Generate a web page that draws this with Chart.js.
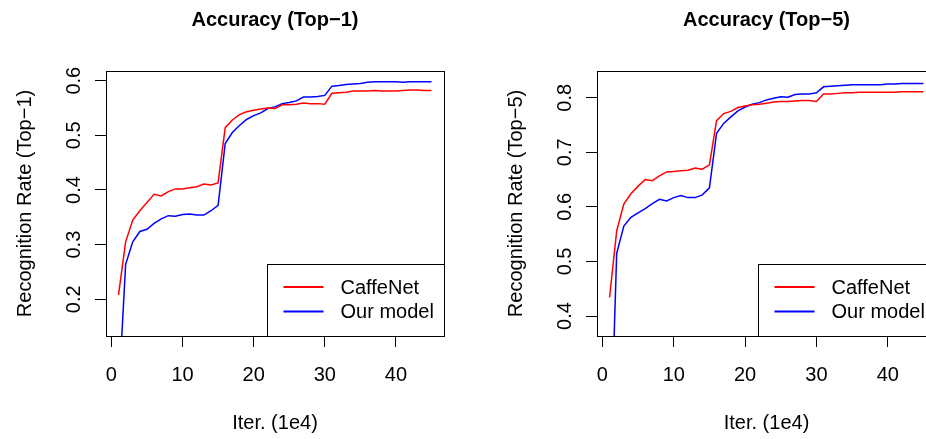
<!DOCTYPE html>
<html>
<head>
<meta charset="utf-8">
<script src="https://cdn.jsdelivr.net/npm/chart.js@4.4.1/dist/chart.umd.min.js"></script>
<style>
  html, body { margin: 0; padding: 0; background: #fff; overflow: hidden; width: 926px; height: 439px; }
  canvas { position: absolute; top: 0; }
  #top1 { left: 0; }
  #top5 { left: 491px; }
</style>
</head>
<body>
<canvas id="top1" width="463" height="439"></canvas>
<canvas id="top5" width="463" height="439"></canvas>
<script>
// iterations, in units of 1e4
const iterations = [1, 2, 3, 4, 5, 6, 7, 8, 9, 10, 11, 12, 13, 14, 15, 16, 17, 18, 19, 20, 21, 22, 23,
  24, 25, 26, 27, 28, 29, 30, 31, 32, 33, 34, 35, 36, 37, 38, 39, 40, 41, 42, 43, 44, 45];

const top1Caffe = [0.208, 0.305, 0.345, 0.362, 0.377, 0.392, 0.389, 0.397, 0.402, 0.402, 0.404, 0.406,
  0.411, 0.409, 0.413, 0.514, 0.528, 0.538, 0.543, 0.546, 0.548, 0.550, 0.549, 0.556, 0.556, 0.557,
  0.559, 0.558, 0.558, 0.557, 0.577, 0.578, 0.579, 0.581, 0.581, 0.581, 0.582, 0.581, 0.581, 0.581,
  0.582, 0.583, 0.583, 0.582, 0.582];
const top1Ours = [0.02, 0.264, 0.305, 0.324, 0.328, 0.339, 0.347, 0.353, 0.352, 0.355, 0.356, 0.354,
  0.354, 0.362, 0.372, 0.485, 0.505, 0.518, 0.529, 0.536, 0.541, 0.549, 0.552, 0.558, 0.560, 0.563,
  0.570, 0.570, 0.571, 0.573, 0.590, 0.591, 0.593, 0.594, 0.595, 0.597, 0.598, 0.598, 0.598, 0.598,
  0.597, 0.598, 0.598, 0.598, 0.598];

const top5Caffe = [0.434, 0.556, 0.605, 0.624, 0.638, 0.650, 0.648, 0.657, 0.664, 0.665, 0.666, 0.667,
  0.671, 0.669, 0.677, 0.758, 0.771, 0.775, 0.782, 0.785, 0.787, 0.788, 0.790, 0.792, 0.793, 0.793,
  0.794, 0.795, 0.795, 0.793, 0.807, 0.807, 0.808, 0.809, 0.809, 0.810, 0.810, 0.810, 0.810, 0.810,
  0.810, 0.811, 0.811, 0.811, 0.811];
const top5Ours = [0.09, 0.515, 0.565, 0.581, 0.589, 0.597, 0.606, 0.614, 0.611, 0.617, 0.621, 0.617,
  0.617, 0.622, 0.635, 0.735, 0.753, 0.765, 0.776, 0.783, 0.788, 0.791, 0.796, 0.799, 0.802, 0.801,
  0.806, 0.807, 0.807, 0.809, 0.820, 0.821, 0.822, 0.823, 0.824, 0.824, 0.824, 0.824, 0.824, 0.825,
  0.825, 0.826, 0.826, 0.826, 0.826];

const xTicks = [0, 10, 20, 30, 40];
const top1Ticks = [0.2, 0.3, 0.4, 0.5, 0.6];
const top1TickLabels = ['0.2', '0.3', '0.4', '0.5', '0.6'];
const top5Ticks = [0.4, 0.5, 0.6, 0.7, 0.8];
const top5TickLabels = ['0.4', '0.5', '0.6', '0.7', '0.8'];

const seriesNames = ['CaffeNet', 'Our model'];
const seriesColors = ['#ff0000', '#0000ff'];

const FONT = '"Liberation Sans", Arial, Helvetica, sans-serif';
Chart.defaults.font.family = FONT;
Chart.defaults.color = '#000';

// base-graphics look: closed box, rotated y labels, legend box in the bottom right
const rStyle = {
  id: 'rStyle',
  afterDatasetsDraw(chart, args, opts) {
    const { ctx, chartArea: a } = chart;
    const y = chart.scales.y;
    const left = Math.round(a.left), right = Math.round(a.right);
    const top = Math.round(a.top), bottom = Math.round(a.bottom);
    ctx.save();
    ctx.strokeStyle = '#000';
    ctx.lineWidth = 1;
    ctx.strokeRect(left + 0.5, top + 0.5, right - left, bottom - top);

    ctx.font = '20px ' + FONT;
    ctx.fillStyle = '#000';
    ctx.textAlign = 'center';
    ctx.textBaseline = 'middle';
    y.ticks.forEach((t, i) => {
      ctx.save();
      ctx.translate(opts.labelX, y.getPixelForValue(t.value));
      ctx.rotate(-Math.PI / 2);
      ctx.fillText(opts.yLabels[i], 0, 1);
      ctx.restore();
    });

    // legend
    const lx = Math.round(a.left + 160.5);
    const ly = 264;
    ctx.fillStyle = '#fff';
    ctx.fillRect(lx, ly, right - lx, bottom - ly);
    ctx.strokeStyle = '#000';
    ctx.strokeRect(lx + 0.5, ly + 0.5, right - lx, bottom - ly);
    ctx.textAlign = 'left';
    chart.data.datasets.forEach((ds, i) => {
      const rowY = ly + 23 + i * 24.4;
      ctx.strokeStyle = ds.borderColor;
      ctx.lineWidth = 2;
      ctx.beginPath();
      ctx.moveTo(lx + 16.5, rowY);
      ctx.lineTo(lx + 56.5, rowY);
      ctx.stroke();
      ctx.fillStyle = '#000';
      ctx.fillText(ds.label, lx + 73.5, rowY + 1);
    });
    ctx.restore();
  }
};

function makeChart(id, title, yTitle, caffe, ours, yMin, yMax, yTicks, yLabels, padRight) {
  const series = [caffe, ours];
  return new Chart(document.getElementById(id), {
    type: 'line',
    data: {
      datasets: series.map((vals, s) => ({
        label: seriesNames[s],
        data: iterations.map((it, i) => ({ x: it, y: vals[i] })),
        borderColor: seriesColors[s],
        borderWidth: 1.5,
        pointRadius: 0,
        tension: 0,
        fill: false
      }))
    },
    options: {
      responsive: false,
      animation: false,
      layout: { padding: { left: 0, top: 0, right: padRight, bottom: 0 } },
      plugins: {
        legend: { display: false },
        tooltip: { enabled: false },
        title: {
          display: true,
          text: title,
          fullSize: false,
          color: '#000',
          font: { size: 20, weight: 'bold', lineHeight: 1.2 },
          padding: { top: 8, bottom: 39 }
        },
        rStyle: { labelX: 73, yLabels: yLabels }
      },
      scales: {
        x: {
          type: 'linear',
          min: -0.76,
          max: 46.76,
          afterBuildTicks: s => { s.ticks = xTicks.map(v => ({ value: v })); },
          afterFit: s => { s.height = 103; },
          ticks: { font: { size: 20 }, color: '#000', padding: 16, maxRotation: 0, autoSkip: false },
          grid: { drawOnChartArea: false, drawTicks: true, tickLength: 11, color: '#000', lineWidth: 1 },
          border: { display: true, color: '#000', width: 1 },
          title: { display: true, text: 'Iter. (1e4)', color: '#000', font: { size: 20, lineHeight: 1.2 }, padding: { top: 0, bottom: 4 } }
        },
        y: {
          type: 'linear',
          min: yMin,
          max: yMax,
          afterBuildTicks: s => { s.ticks = yTicks.map(v => ({ value: v })); },
          afterFit: s => { s.width = 106; },
          ticks: { display: false },
          grid: { drawOnChartArea: false, drawTicks: true, tickLength: 11, color: '#000', lineWidth: 1 },
          border: { display: true, color: '#000', width: 1 },
          title: { display: true, text: yTitle, color: '#000', font: { size: 20, lineHeight: 1.2 }, padding: { top: 13, bottom: 0 } }
        }
      }
    },
    plugins: [rStyle]
  });
}

makeChart('top1', 'Accuracy (Top\u22121)', 'Recognition Rate (Top\u22121)',
  top1Caffe, top1Ours, 0.1328, 0.6177, top1Ticks, top1TickLabels, 19);
makeChart('top5', 'Accuracy (Top\u22125)', 'Recognition Rate (Top\u22125)',
  top5Caffe, top5Ours, 0.3634, 0.849, top5Ticks, top5TickLabels, 18);
</script>
</body>
</html>
